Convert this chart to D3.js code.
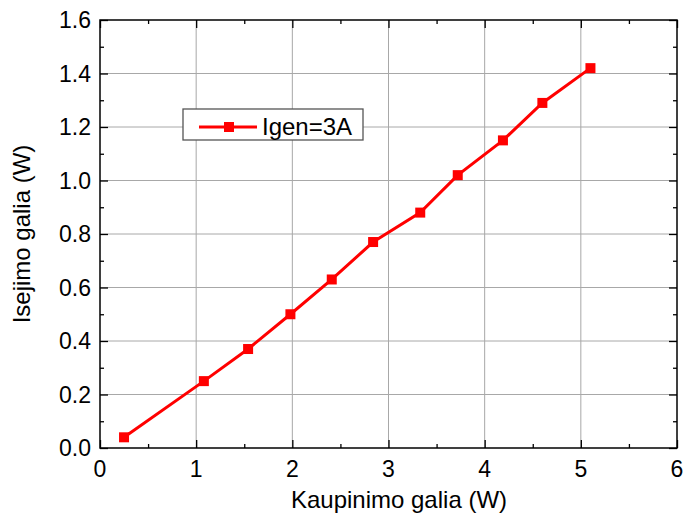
<!DOCTYPE html>
<html>
<head>
<meta charset="utf-8">
<script src="https://d3js.org/d3.v7.min.js"></script>
<style>
  body { margin: 0; background: #fff; }
  text { font-family: "Liberation Sans", Arial, sans-serif; fill: #000; }
</style>
</head>
<body>
<svg width="684" height="513"></svg>
<script>
// data
const kaupinimo = [0.25, 1.08, 1.54, 1.98, 2.41, 2.84, 3.33, 3.72, 4.19, 4.60, 5.10]
const isejimo   = [0.04, 0.25, 0.37, 0.50, 0.63, 0.77, 0.88, 1.02, 1.15, 1.29, 1.42]
const seriesName = "Igen=3A"
const xTicks = [0, 1, 2, 3, 4, 5, 6]
const yTicks = [0.0, 0.2, 0.4, 0.6, 0.8, 1.0, 1.2, 1.4, 1.6]

const data = kaupinimo.map((x, i) => ({ x: x, y: isejimo[i] }))

const svg = d3.select("svg")
const margin = { top: 20, right: 7, bottom: 65, left: 100 }
const width = 684 - margin.left - margin.right
const height = 513 - margin.top - margin.bottom

const x = d3.scaleLinear().domain([0, 6]).range([0, width])
const y = d3.scaleLinear().domain([0, 1.6]).range([height, 0])

const g = svg.append("g").attr("transform", `translate(${margin.left},${margin.top})`)

// grid
g.append("g").selectAll("line").data(xTicks.slice(1, -1)).enter().append("line")
  .attr("x1", d => x(d)).attr("x2", d => x(d)).attr("y1", 0).attr("y2", height)
  .attr("stroke", "#a8a8a8").attr("stroke-width", 1)
g.append("g").selectAll("line").data(yTicks.slice(1, -1)).enter().append("line")
  .attr("y1", d => y(d)).attr("y2", d => y(d)).attr("x1", 0).attr("x2", width)
  .attr("stroke", "#a8a8a8").attr("stroke-width", 1)

// inward ticks on all four sides
const xMinor = d3.range(0.5, 6, 1)
const yMinor = d3.range(0.1, 1.6, 0.2)
const tickStyle = sel => sel.call(s => s.select(".domain").remove())
  .call(s => s.selectAll("line").attr("stroke", "#000").attr("stroke-width", 1.3))
  .call(s => s.selectAll("text").remove())

g.append("g").attr("transform", `translate(0,${height})`)
  .call(d3.axisBottom(x).tickValues(xTicks).tickSize(-8)).call(tickStyle)
g.append("g").attr("transform", `translate(0,${height})`)
  .call(d3.axisBottom(x).tickValues(xMinor).tickSize(-4)).call(tickStyle)
g.append("g").call(d3.axisTop(x).tickValues(xTicks).tickSize(-8)).call(tickStyle)
g.append("g").call(d3.axisTop(x).tickValues(xMinor).tickSize(-4)).call(tickStyle)
g.append("g").call(d3.axisLeft(y).tickValues(yTicks).tickSize(-8)).call(tickStyle)
g.append("g").call(d3.axisLeft(y).tickValues(yMinor).tickSize(-4)).call(tickStyle)
g.append("g").attr("transform", `translate(${width},0)`)
  .call(d3.axisRight(y).tickValues(yTicks).tickSize(-8)).call(tickStyle)
g.append("g").attr("transform", `translate(${width},0)`)
  .call(d3.axisRight(y).tickValues(yMinor).tickSize(-4)).call(tickStyle)

// tick labels
g.append("g").selectAll("text").data(xTicks).enter().append("text")
  .attr("x", d => x(d)).attr("y", height + 29)
  .attr("text-anchor", "middle").attr("font-size", 23)
  .text(d => d)
g.append("g").selectAll("text").data(yTicks).enter().append("text")
  .attr("x", -9).attr("y", d => y(d)).attr("dy", "0.36em")
  .attr("text-anchor", "end").attr("font-size", 23)
  .text(d => d.toFixed(1))

// frame
g.append("rect").attr("width", width).attr("height", height)
  .attr("fill", "none").attr("stroke", "#000").attr("stroke-width", 1.5)

// series
const line = d3.line().x(d => x(d.x)).y(d => y(d.y))
g.append("path").datum(data).attr("d", line)
  .attr("fill", "none").attr("stroke", "#ff0000").attr("stroke-width", 3)
g.selectAll(".pt").data(data).enter().append("rect").attr("class", "pt")
  .attr("x", d => x(d.x) - 5).attr("y", d => y(d.y) - 5)
  .attr("width", 10).attr("height", 10).attr("fill", "#ff0000")

// axis titles
svg.append("text").attr("x", 399).attr("y", 508)
  .attr("text-anchor", "middle").attr("font-size", 24)
  .text("Kaupinimo galia (W)")
svg.append("text").attr("transform", `translate(30,${margin.top + height / 2}) rotate(-90)`)
  .attr("text-anchor", "middle").attr("font-size", 24)
  .text("Isejimo galia (W)")

// legend
const leg = svg.append("g").attr("transform", "translate(183,109)")
leg.append("rect").attr("width", 180).attr("height", 31)
  .attr("fill", "#fff").attr("stroke", "#555").attr("stroke-width", 1.3)
leg.append("line").attr("x1", 16).attr("x2", 74).attr("y1", 18).attr("y2", 18)
  .attr("stroke", "#ff0000").attr("stroke-width", 3)
leg.append("rect").attr("x", 41).attr("y", 13).attr("width", 10).attr("height", 10)
  .attr("fill", "#ff0000")
leg.append("text").attr("x", 79).attr("y", 26).attr("font-size", 24).text(seriesName)
</script>
</body>
</html>
